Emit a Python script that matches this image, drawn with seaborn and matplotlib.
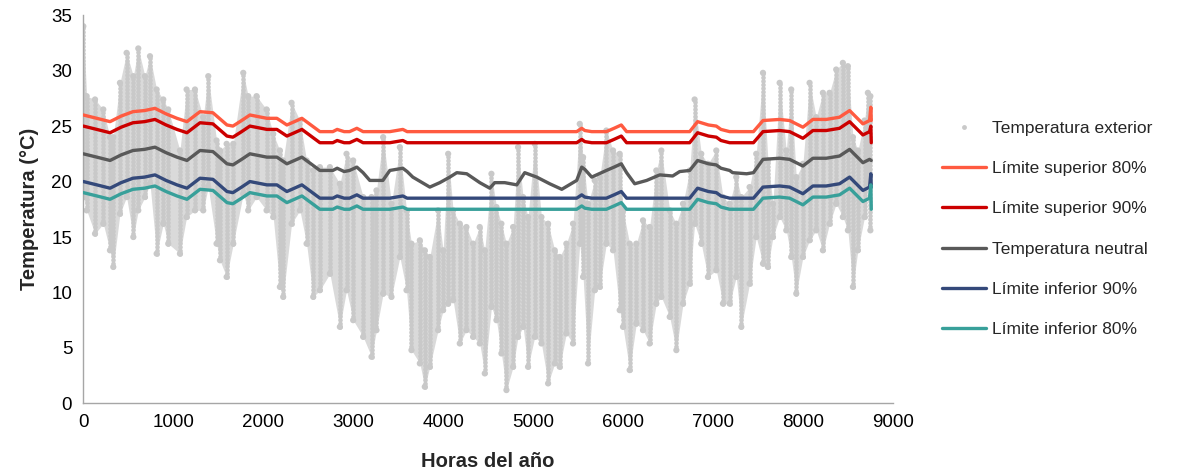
import matplotlib
matplotlib.use("Agg")
import matplotlib.pyplot as plt
from matplotlib.lines import Line2D
import seaborn as sns

# outdoor temperature, read as high / low envelope every ~2-3 days
OUT_HOURS = [
    0, 37, 130, 222, 296, 333, 407, 481, 556, 611, 685, 741, 815, 889, 944,
    1074, 1148, 1241, 1333, 1389, 1481, 1519, 1593, 1667, 1778, 1833, 1926,
    2037, 2111, 2185, 2222, 2315, 2408, 2482, 2556, 2630, 2741, 2852, 2926,
    3000, 3111, 3204, 3259, 3333, 3426, 3519, 3593, 3648, 3741, 3796, 3852,
    3944, 4000, 4056, 4111, 4185, 4259, 4333, 4407, 4463, 4537, 4593, 4648,
    4704, 4778, 4833, 4889, 4944, 5019, 5093, 5167, 5241, 5296, 5370, 5444,
    5519, 5556, 5611, 5685, 5741, 5815, 5889, 5963, 6000, 6074, 6148, 6222,
    6296, 6370, 6426, 6519, 6593, 6667, 6741, 6796, 6870, 6944, 7037, 7111,
    7185, 7259, 7315, 7407, 7481, 7556, 7611, 7667, 7741, 7815, 7870, 7926,
    8000, 8074, 8148, 8222, 8296, 8370, 8444, 8500, 8556, 8611, 8685, 8722,
    8750,
]
OUT_HIGH = [
    34.0, 27.7, 27.4, 26.5, 24.0, 24.0, 28.9, 31.6, 29.5, 32.0, 29.5, 31.3, 28.3, 27.4, 26.5,
    22.8, 28.3, 28.3, 25.8, 29.5, 23.7, 22.8, 23.4, 23.4, 29.8, 27.7, 27.7,
    26.5, 24.3, 22.8, 21.9, 27.1, 25.5, 21.9, 21.0, 21.3, 21.3, 19.8, 22.5,
    21.9, 18.6, 18.6, 19.2, 24.0, 18.0, 23.1, 17.4, 14.4, 14.7, 13.8, 13.2,
    17.4, 13.8, 22.5, 17.4, 16.2, 15.9, 14.4, 15.9, 13.8, 20.7, 17.7, 16.2,
    14.4, 15.9, 23.1, 18.6, 16.8, 23.4, 16.8, 16.2, 13.8, 13.2, 14.4, 16.2,
    25.2, 22.2, 18.0, 20.1, 20.4, 24.6, 22.8, 22.5, 17.4, 14.4, 14.4, 16.5,
    15.9, 21.0, 22.8, 17.4, 16.2, 18.0, 21.0, 27.4, 22.5, 21.6, 22.8, 18.6,
    18.0, 20.4, 18.6, 19.5, 22.5, 29.8, 21.9, 18.0, 28.9, 22.8, 28.3, 20.4,
    21.6, 28.9, 25.8, 28.0, 28.0, 30.1, 30.7, 30.4, 24.0, 22.8, 25.5, 28.0,
    27.7,
]
OUT_LOW = [
    18.6, 17.4, 15.3, 16.2, 13.8, 12.3, 17.1, 18.6, 15.0, 17.4, 18.6, 19.8, 13.5, 16.2, 14.4,
    13.5, 16.8, 17.4, 17.4, 19.5, 14.4, 12.9, 11.4, 14.4, 18.9, 17.4, 18.6,
    17.4, 16.8, 10.5, 9.6, 16.2, 17.4, 14.4, 9.6, 10.2, 11.7, 6.9, 10.2,
    7.5, 6.0, 4.2, 6.6, 9.9, 9.6, 13.2, 10.2, 4.8, 3.6, 1.5, 3.3,
    6.6, 8.4, 9.0, 9.3, 5.4, 6.6, 6.0, 5.4, 2.7, 8.7, 7.5, 4.5,
    1.2, 3.3, 6.0, 6.9, 3.3, 6.0, 5.4, 1.8, 3.6, 3.3, 6.3, 5.4,
    14.4, 11.4, 3.6, 10.2, 10.5, 14.4, 13.8, 8.4, 6.9, 3.0, 7.2, 6.6,
    5.4, 9.0, 9.6, 7.8, 4.8, 9.0, 10.8, 16.2, 14.4, 11.4, 12.0, 9.0,
    9.0, 11.4, 6.9, 10.8, 15.0, 12.6, 12.3, 15.0, 16.8, 15.6, 13.2, 9.9,
    13.2, 14.7, 15.6, 13.8, 16.2, 18.0, 16.8, 15.6, 10.5, 13.8, 16.8, 19.8,
    15.6,
]

# neutral temperature
NEUTRAL_HOURS = [
    0, 150, 297, 420, 552, 680, 797, 920, 1041, 1152,
    1297, 1441, 1597, 1663, 1760, 1852, 2041, 2152, 2263, 2430,
    2530, 2630, 2774, 2822, 2900, 2960, 3041, 3110, 3185, 3330,
    3408, 3480, 3552, 3600, 3663, 3852, 3963, 4074, 4152, 4263,
    4408, 4519, 4574, 4685, 4819, 4907, 5041, 5185, 5319, 5485,
    5541, 5575, 5652, 5815, 5900, 5981, 6040, 6130, 6263, 6408,
    6552, 6630, 6741, 6829, 6950, 7037, 7089, 7185, 7219, 7374,
    7450, 7556, 7741, 7852, 8000, 8111, 8259, 8407, 8519, 8593,
    8667, 8741, 8760,
]
NEUTRAL = [
    22.5, 22.2, 21.9, 22.4, 22.8, 22.9, 23.1, 22.6, 22.2, 21.9,
    22.8, 22.7, 21.6, 21.5, 22.0, 22.5, 22.2, 22.2, 21.6, 22.2,
    21.6, 21.0, 21.0, 21.2, 20.9, 21.0, 21.3, 20.8, 20.1, 20.1,
    21.0, 21.1, 21.2, 20.9, 20.4, 19.5, 19.9, 20.4, 20.8, 20.7,
    19.9, 19.4, 19.9, 19.9, 19.7, 20.8, 20.4, 19.8, 19.3, 20.1,
    21.3, 21.1, 20.4, 21.0, 21.3, 21.6, 20.8, 19.8, 20.1, 20.6,
    20.5, 20.9, 21.0, 21.9, 21.6, 21.5, 21.2, 21.0, 20.8, 20.7,
    20.8, 22.0, 22.1, 22.0, 21.4, 22.1, 22.1, 22.3, 22.9, 22.3,
    21.7, 22.0, 21.9,
]

# comfort limits (same hours, last hour jumps)
LIMIT_HOURS = NEUTRAL_HOURS[:-1] + [8755, 8760]
SUP_80 = [
    26.0, 25.7, 25.4, 25.9, 26.3, 26.4, 26.6, 26.1, 25.7, 25.4,
    26.3, 26.2, 25.1, 25.0, 25.5, 26.0, 25.7, 25.7, 25.1, 25.7,
    25.1, 24.5, 24.5, 24.7, 24.5, 24.5, 24.8, 24.5, 24.5, 24.5,
    24.5, 24.6, 24.7, 24.5, 24.5, 24.5, 24.5, 24.5, 24.5, 24.5,
    24.5, 24.5, 24.5, 24.5, 24.5, 24.5, 24.5, 24.5, 24.5, 24.5,
    24.8, 24.6, 24.5, 24.5, 24.8, 25.1, 24.5, 24.5, 24.5, 24.5,
    24.5, 24.5, 24.5, 25.4, 25.1, 25.0, 24.7, 24.5, 24.5, 24.5,
    24.5, 25.5, 25.6, 25.5, 24.9, 25.6, 25.6, 25.8, 26.4, 25.8,
    25.2, 25.5, 26.7, 25.5,
]
SUP_90 = [
    25.0, 24.7, 24.4, 24.9, 25.3, 25.4, 25.6, 25.1, 24.7, 24.4,
    25.3, 25.2, 24.1, 24.0, 24.5, 25.0, 24.7, 24.7, 24.1, 24.7,
    24.1, 23.5, 23.5, 23.7, 23.5, 23.5, 23.8, 23.5, 23.5, 23.5,
    23.5, 23.6, 23.7, 23.5, 23.5, 23.5, 23.5, 23.5, 23.5, 23.5,
    23.5, 23.5, 23.5, 23.5, 23.5, 23.5, 23.5, 23.5, 23.5, 23.5,
    23.8, 23.6, 23.5, 23.5, 23.8, 24.1, 23.5, 23.5, 23.5, 23.5,
    23.5, 23.5, 23.5, 24.4, 24.1, 24.0, 23.7, 23.5, 23.5, 23.5,
    23.5, 24.5, 24.6, 24.5, 23.9, 24.6, 24.6, 24.8, 25.4, 24.8,
    24.2, 24.5, 25.0, 23.5,
]
INF_90 = [
    20.0, 19.7, 19.4, 19.9, 20.3, 20.4, 20.6, 20.1, 19.7, 19.4,
    20.3, 20.2, 19.1, 19.0, 19.5, 20.0, 19.7, 19.7, 19.1, 19.7,
    19.1, 18.5, 18.5, 18.7, 18.5, 18.5, 18.8, 18.5, 18.5, 18.5,
    18.5, 18.6, 18.7, 18.5, 18.5, 18.5, 18.5, 18.5, 18.5, 18.5,
    18.5, 18.5, 18.5, 18.5, 18.5, 18.5, 18.5, 18.5, 18.5, 18.5,
    18.8, 18.6, 18.5, 18.5, 18.8, 19.1, 18.5, 18.5, 18.5, 18.5,
    18.5, 18.5, 18.5, 19.4, 19.1, 19.0, 18.7, 18.5, 18.5, 18.5,
    18.5, 19.5, 19.6, 19.5, 18.9, 19.6, 19.6, 19.8, 20.4, 19.8,
    19.2, 19.5, 20.7, 19.5,
]
INF_80 = [
    19.0, 18.7, 18.4, 18.9, 19.3, 19.4, 19.6, 19.1, 18.7, 18.4,
    19.3, 19.2, 18.1, 18.0, 18.5, 19.0, 18.7, 18.7, 18.1, 18.7,
    18.1, 17.5, 17.5, 17.7, 17.5, 17.5, 17.8, 17.5, 17.5, 17.5,
    17.5, 17.6, 17.7, 17.5, 17.5, 17.5, 17.5, 17.5, 17.5, 17.5,
    17.5, 17.5, 17.5, 17.5, 17.5, 17.5, 17.5, 17.5, 17.5, 17.5,
    17.8, 17.6, 17.5, 17.5, 17.8, 18.1, 17.5, 17.5, 17.5, 17.5,
    17.5, 17.5, 17.5, 18.4, 18.1, 18.0, 17.7, 17.5, 17.5, 17.5,
    17.5, 18.5, 18.6, 18.5, 17.9, 18.6, 18.6, 18.8, 19.4, 18.8,
    18.2, 18.5, 19.7, 17.5,
]

LABELS = [
    "Temperatura exterior",
    "Límite superior 80%",
    "Límite superior 90%",
    "Temperatura neutral",
    "Límite inferior 90%",
    "Límite inferior 80%",
]

GREY_PTS = "#C9C9C9"
COLORS = ["#FF5A40", "#CC0000", "#595959", "#34497A", "#38A09A"]

sns.set_style("white")
plt.rcParams["font.family"] = ["Liberation Sans", "DejaVu Sans"]

fig = plt.figure(figsize=(11.87, 4.74), dpi=100)
ax = fig.add_axes([0.0702, 0.149, 0.682, 0.819])

# outdoor temperature cloud: light band between lows and highs,
# with dotted columns on top for the point texture
ax.fill_between(OUT_HOURS, OUT_LOW, OUT_HIGH, color="#DADADA", linewidth=0, zorder=0)
lc = ax.vlines(OUT_HOURS, OUT_LOW, OUT_HIGH, colors=GREY_PTS, linewidth=3.4,
               linestyles=(0, (0.01, 0.75)), zorder=1)
lc.set_capstyle("round")
sns.scatterplot(x=OUT_HOURS + OUT_HOURS, y=OUT_HIGH + OUT_LOW, color=GREY_PTS,
                s=20, edgecolor="none", ax=ax, zorder=1, legend=False)

series = [
    (LIMIT_HOURS, SUP_80),
    (LIMIT_HOURS, SUP_90),
    (NEUTRAL_HOURS, NEUTRAL),
    (LIMIT_HOURS, INF_90),
    (LIMIT_HOURS, INF_80),
]
for (hrs, vals), col in zip(series, COLORS):
    sns.lineplot(x=hrs, y=vals, color=col, linewidth=2.4, ax=ax,
                 estimator=None, sort=False, zorder=3)

ax.set_xlim(0, 9000)
ax.set_ylim(0, 35)
ax.set_xticks(range(0, 9001, 1000))
ax.set_yticks(range(0, 36, 5))
for s in ["top", "right"]:
    ax.spines[s].set_visible(False)
for s in ["left", "bottom"]:
    ax.spines[s].set_color("#A6A6A6")
    ax.spines[s].set_linewidth(1.0)
ax.tick_params(direction="out", length=4, width=1, color="#A6A6A6",
               labelsize=13.5, pad=4, labelcolor="#000000")
ax.set_xlabel("Horas del año", fontsize=14.5, fontweight="bold", labelpad=15)
ax.set_ylabel("Temperatura (°C)", fontsize=14.5, fontweight="bold", labelpad=9)

handles = [Line2D([], [], marker="o", linestyle="none", markersize=3.5,
                  markerfacecolor=GREY_PTS, markeredgecolor="none")]
handles += [Line2D([], [], color=c, linewidth=2.4) for c in COLORS]
fig.legend(handles, LABELS, loc="center left", bbox_to_anchor=(0.794, 0.517),
           frameon=False, fontsize=12.5, handlelength=2.5, handletextpad=0.35,
           labelspacing=1.45, borderpad=0, borderaxespad=0)

fig.savefig("out.png", dpi=100)
